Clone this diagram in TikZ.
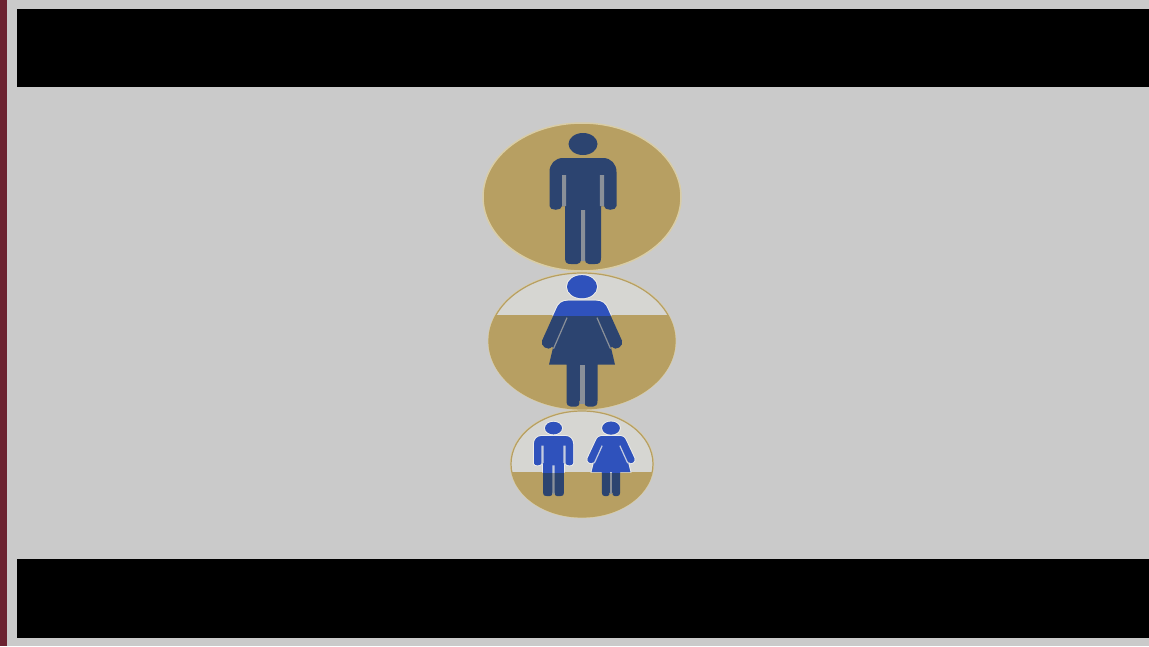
\documentclass[tikz,border=0pt]{standalone}
\definecolor{bgc}{HTML}{CACACA}
\definecolor{wine}{HTML}{6B2230}
\definecolor{gold}{HTML}{B79F62}
\definecolor{halo}{HTML}{D9CDA6}
\definecolor{pale}{HTML}{D6D6D2}
\definecolor{navy}{HTML}{2C4470}
\definecolor{royal}{HTML}{2F52BC}
\definecolor{gapc}{HTML}{8A9099}
\definecolor{gapb}{HTML}{C4CCE0}
\newcommand{\mansil}{
  (0,-14) ellipse [x radius=14.5pt,y radius=11pt]
  (-20,0) -- (20,0) .. controls (28,0) and (33.5,6) .. (33.5,14) -- (33.5,48)
  .. controls (33.5,53) and (21,53) .. (21,48) -- (18,48) -- (18,100)
  .. controls (18,105) and (16,106) .. (12,106) -- (6,106)
  .. controls (3,106) and (2,104) .. (2,100) -- (-2,100)
  .. controls (-2,104) and (-3,106) .. (-6,106) -- (-12,106)
  .. controls (-16,106) and (-18,105) .. (-18,100) -- (-18,48) -- (-21,48)
  .. controls (-21,53) and (-33.5,53) .. (-33.5,48) -- (-33.5,14)
  .. controls (-33.5,6) and (-28,0) .. (-20,0) -- cycle}
\newcommand{\womansil}{
  (0,-14) ellipse [x radius=15pt,y radius=11.5pt]
  (-14,0) -- (14,0) .. controls (20,0) and (24,3) .. (26,9) -- (40,40)
  .. controls (42,45) and (34,51) .. (30,46) -- (29,47) -- (33,64) -- (15.5,64) -- (15.5,100)
  .. controls (15.5,104) and (14,106) .. (11,106) -- (6,106)
  .. controls (3,106) and (2.5,104) .. (2.5,100) -- (-2.5,100)
  .. controls (-2.5,104) and (-3,106) .. (-6,106) -- (-11,106)
  .. controls (-14,106) and (-15.5,104) .. (-15.5,100) -- (-15.5,64) -- (-33,64) -- (-29,47) -- (-30,46)
  .. controls (-34,51) and (-42,45) .. (-40,40) -- (-26,9)
  .. controls (-24,3) and (-20,0) .. (-14,0) -- cycle}
\newcommand{\mangaps}[1]{
  \fill[#1] (16.8,17) rectangle (21,48) (-21,17) rectangle (-16.8,48) (-2,52) rectangle (2,103);}
\newcommand{\womangaps}[1]{
  \draw[#1,line width=1.2pt] (15,17) -- (28.5,48) (-15,17) -- (-28.5,48);
  \fill[#1] (-2.5,64) rectangle (2.5,103);}
\tikzset{figplace/.style n args={4}{shift={(#1,#2)},xscale=#3,yscale=#4},
  glow/.style={draw=white,opacity=.55,line width=2pt}}
\begin{document}
\begin{tikzpicture}[x=1pt,y=-1pt]
\useasboundingbox (0,0) rectangle (1149,646);
\fill[bgc] (0,0) rectangle (1149,646);
\fill[wine] (0,0) rectangle (7,646);
\fill[black] (17,9) rectangle (1149,87);
\fill[black] (17,559) rectangle (1149,638);
% top disc
\fill[gold,draw=halo,line width=1.5pt] (582,197) ellipse [x radius=99pt,y radius=74pt];
\begin{scope}[figplace={583}{158}{1}{1}]
  \fill[navy] \mansil;
  \mangaps{gapc}
\end{scope}
% middle disc
\draw[halo,line width=2.5pt] (582,341) ellipse [x radius=93pt,y radius=68pt];
\fill[pale] (582,341) ellipse [x radius=93pt,y radius=68pt];
\begin{scope}
  \clip (0,315) rectangle (1149,646);
  \fill[gold] (582,341) ellipse [x radius=93pt,y radius=68pt];
\end{scope}
\draw[gold,line width=1.2pt] (582,341) ellipse [x radius=93pt,y radius=68pt];
\begin{scope}[figplace={582}{300.7}{1}{1}]
  \fill[navy] \womansil;
  \womangaps{gapc}
\end{scope}
\begin{scope}
  \clip (0,0) rectangle (1149,315);
  \begin{scope}[figplace={582}{300.7}{1}{1}]
    \path[glow] \womansil;
    \fill[royal] \womansil;
    \womangaps{gapb}
  \end{scope}
\end{scope}
% bottom disc
\draw[halo,line width=2.5pt] (582,464) ellipse [x radius=71pt,y radius=53pt];
\fill[pale] (582,464) ellipse [x radius=71pt,y radius=53pt];
\begin{scope}
  \clip (0,472) rectangle (1149,646);
  \fill[gold] (582,464) ellipse [x radius=71pt,y radius=53pt];
\end{scope}
\draw[gold,line width=1.2pt] (582,464) ellipse [x radius=71pt,y radius=53pt];
\begin{scope}[figplace={553.5}{436}{.582}{.566}]
  \fill[navy] \mansil;
  \mangaps{gapc}
\end{scope}
\begin{scope}[figplace={611}{436}{.587}{.566}]
  \fill[navy] \womansil;
  \womangaps{gapc}
\end{scope}
\begin{scope}
  \clip (0,0) rectangle (1149,472);
  \begin{scope}[figplace={553.5}{436}{.582}{.566}]
    \path[glow] \mansil;
    \fill[royal] \mansil;
    \mangaps{gapb}
  \end{scope}
  \begin{scope}[figplace={611}{436}{.587}{.566}]
    \path[glow] \womansil;
    \fill[royal] \womansil;
    \womangaps{gapb}
  \end{scope}
\end{scope}
\end{tikzpicture}
\end{document}
